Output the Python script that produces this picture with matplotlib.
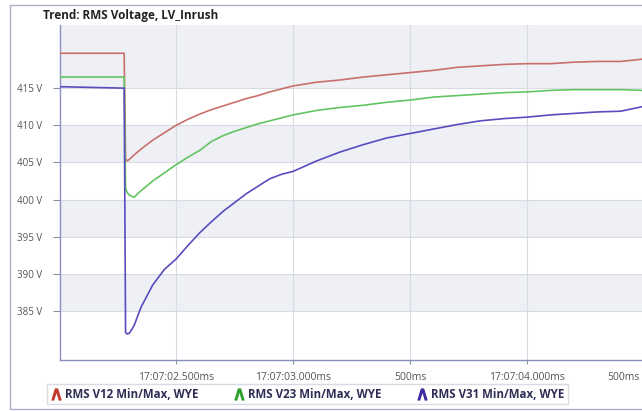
import matplotlib.pyplot as plt
import matplotlib.patches as patches
from matplotlib.lines import Line2D
import numpy as np

plt.rcParams['font.family'] = ['Open Sans', 'DejaVu Sans']

# seconds after 17:07:00
t = [2.00, 2.278, 2.281, 2.284, 2.29, 2.30, 2.32, 2.35, 2.40, 2.45, 2.50,
     2.55, 2.60, 2.65, 2.70, 2.75, 2.80, 2.85, 2.90, 2.95, 3.00,
     3.10, 3.20, 3.30, 3.40, 3.50, 3.60, 3.70, 3.80, 3.90, 4.00,
     4.10, 4.20, 4.30, 4.40, 4.49]

v12 = [419.7, 419.7, 412.0, 405.5, 405.2, 405.4, 406.0, 406.8, 408.0, 409.0, 410.0,
       410.8, 411.5, 412.1, 412.6, 413.1, 413.6, 414.0, 414.5, 414.9, 415.3,
       415.8, 416.1, 416.5, 416.8, 417.1, 417.4, 417.8, 418.0, 418.2, 418.3,
       418.3, 418.5, 418.6, 418.6, 418.9]

v23 = [416.5, 416.5, 408.0, 401.5, 401.0, 400.6, 400.3, 401.2, 402.5, 403.6, 404.7,
       405.7, 406.6, 407.8, 408.6, 409.2, 409.7, 410.2, 410.6, 411.0, 411.4,
       412.0, 412.4, 412.7, 413.1, 413.4, 413.8, 414.0, 414.2, 414.4, 414.5,
       414.7, 414.8, 414.8, 414.8, 414.7]

v31 = [415.2, 415.0, 398.5, 382.1, 381.9, 382.0, 383.0, 385.5, 388.5, 390.6, 392.0,
       393.8, 395.5, 397.0, 398.4, 399.6, 400.8, 401.8, 402.8, 403.4, 403.8,
       405.2, 406.4, 407.4, 408.3, 408.9, 409.5, 410.1, 410.6, 410.9, 411.1,
       411.4, 411.6, 411.8, 411.9, 412.5]

yticks = [385, 390, 395, 400, 405, 410, 415]
xticks = [2.5, 3.0, 3.5, 4.0]
xticklabels = ['17:07:02.500ms', '17:07:03.000ms', '500ms', '17:07:04.000ms']
names = ['RMS V12 Min/Max, WYE', 'RMS V23 Min/Max, WYE', 'RMS V31 Min/Max, WYE']

line_colors = ['#c9706c', '#62c462', '#5a4cc0']
mark_colors = ['#c0392b', '#2ca02c', '#3b2b9e']

fig = plt.figure(figsize=(6.42, 4.11), dpi=100)
ax = fig.add_axes([0.0935, 0.1241, 0.9065, 0.815])

ylo, yhi = 378.4, 423.5
ax.set_ylim(ylo, yhi)
ax.set_xlim(2.004, 4.49)

# alternating background bands
band = '#eef0f5'
for lo, hi in [(385, 390), (395, 400), (405, 410), (415, yhi)]:
    ax.axhspan(lo, hi, color=band, zorder=0, lw=0)

for y in yticks:
    ax.axhline(y, color='#d9dbe2', lw=0.8, zorder=1)
for x in xticks:
    ax.axvline(x, color='#d9dbe2', lw=0.8, zorder=1)

for v, c in zip([v12, v23, v31], line_colors):
    ax.plot(t, v, color=c, lw=1.2, zorder=3)

ax.set_yticks(yticks)
ax.set_yticklabels([f'{y} V' for y in yticks])
ax.set_xticks(xticks)
ax.set_xticklabels(xticklabels)
ax.tick_params(axis='y', labelsize=7, colors='#8a8fa8', labelcolor='#555555',
               length=5, width=0.8, pad=8)
ax.tick_params(axis='x', labelsize=7.5, colors='#8a8fa8', labelcolor='#555555',
               length=3, width=0.8, pad=6)

for s in ['top', 'right']:
    ax.spines[s].set_visible(False)
for s in ['left', 'bottom']:
    ax.spines[s].set_color('#8a8fbf')
    ax.spines[s].set_linewidth(1.0)

# last tick label sits just past the right edge
fig.text(640 / 642, 1 - 377 / 411, '500ms', ha='right', va='center',
         fontsize=7.5, color='#555555')

fig.text(43 / 642, 1 - 16 / 411, 'Trend: RMS Voltage, LV_Inrush',
         ha='left', va='center', fontsize=8.5, fontweight='bold', color='#222222')

# outer frame
fig.patches.append(patches.Rectangle((10 / 642, 2 / 411), 1.0, 404 / 411,
                                     transform=fig.transFigure, fill=False,
                                     edgecolor='#a9adc8', lw=1.0))

handles = [Line2D([], [], ls='none', marker=r'$\wedge$', markersize=8,
                  markeredgewidth=0.8, color=c) for c in mark_colors]
leg = fig.legend(handles, names, loc='lower left', bbox_to_anchor=(47 / 642, 7 / 411),
                 borderaxespad=0, ncol=3, frameon=True, fancybox=False, fontsize=8.3,
                 handlelength=0.9, handletextpad=0.4, columnspacing=3.0,
                 borderpad=0.3, edgecolor='#d0d2dc')
for txt in leg.get_texts():
    txt.set_color('#2e2e55')
    txt.set_fontweight('bold')

fig.savefig('out.png', dpi=100)
